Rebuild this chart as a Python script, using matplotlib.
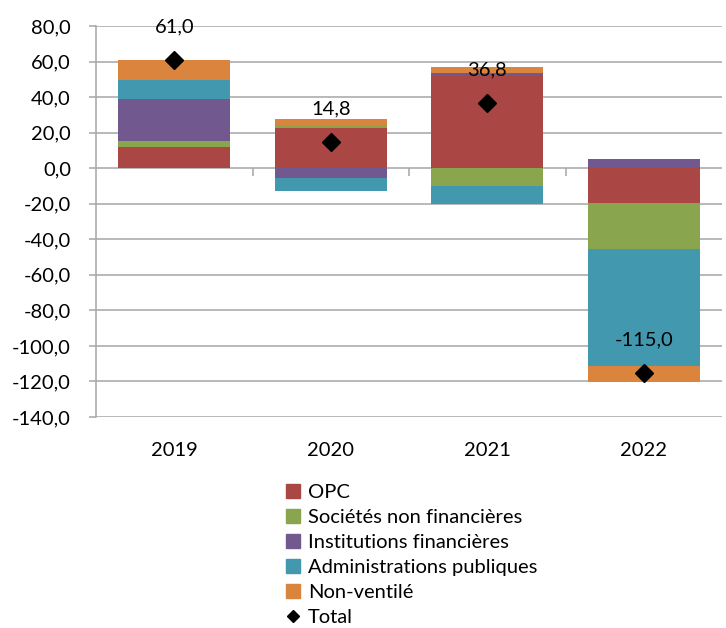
import os
os.environ.setdefault("MPLBACKEND", "Agg")
import numpy as np
import matplotlib.pyplot as plt
from matplotlib.lines import Line2D

years = ["2019", "2020", "2021", "2022"]
opc = [12.0, 22.6, 52.4, -19.5]
snf = [3.2, 1.9, -9.8, -25.8]
inst_fin = [23.5, -5.8, 1.3, 5.3]
admin_pub = [10.8, -7.1, -10.5, -66.0]
non_vent = [11.5, 3.2, 3.4, -9.0]
total = [61.0, 14.8, 36.8, -115.0]

series = [
    ("OPC", opc, "#AA4643"),
    ("Sociétés non financières", snf, "#89A54E"),
    ("Institutions financières", inst_fin, "#71588F"),
    ("Administrations publiques", admin_pub, "#4198AF"),
    ("Non-ventilé", non_vent, "#DB843D"),
]

FS = 14.5
plt.rcParams["font.family"] = ["Lato", "DejaVu Sans"]
plt.rcParams["font.size"] = FS


def fmt(v):
    return f"{v:.1f}".replace(".", ",")


fig = plt.figure(figsize=(7.26, 6.28), dpi=100)
ax = fig.add_axes([96 / 726, 1 - 417 / 628, 626 / 726, (417 - 26) / 628])

x = np.arange(len(years))
pos_base = np.zeros(len(years))
neg_base = np.zeros(len(years))
handles = []
for name, vals, col in series:
    vals = np.array(vals)
    base = np.where(vals >= 0, pos_base, neg_base)
    ax.bar(x, vals, width=0.716, bottom=base, color=col, linewidth=0, zorder=2)
    pos_base = pos_base + np.where(vals >= 0, vals, 0)
    neg_base = neg_base + np.where(vals < 0, vals, 0)
    handles.append(Line2D([], [], marker="s", color=col, linestyle="none",
                          markersize=10, label=name))

ax.plot(x, total, linestyle="none", marker="D", color="black", markersize=9.5, zorder=4)
for xi, t in zip(x, total):
    ax.annotate(fmt(t), (xi, t), xytext=(0, 33), textcoords="offset pixels",
                ha="center", va="center", fontsize=FS, zorder=5)
handles.append(Line2D([], [], marker="D", color="black", linestyle="none",
                      markersize=6, label="Total"))

ax.set_xlim(-0.5, 3.5)
ax.set_ylim(-140, 80)
ax.set_yticks(np.arange(-140, 81, 20))
ax.set_yticklabels([fmt(v) for v in np.arange(-140, 81, 20)])
ax.yaxis.grid(True, color="#A6A6A6", linewidth=1.1, zorder=0)
ax.set_axisbelow(True)
ax.set_xticks(x)
ax.set_xticklabels(years)
ax.tick_params(axis="x", length=0, pad=18)
ax.tick_params(axis="y", length=5, color="#A6A6A6", width=1.1, pad=13)
for s in ["top", "right", "bottom"]:
    ax.spines[s].set_visible(False)
ax.spines["left"].set_color("#A6A6A6")
ax.spines["left"].set_linewidth(1.1)
# category boundary ticks on the zero line
ax.vlines([0.5, 1.5, 2.5], 0, -4.5, color="#A6A6A6", linewidth=1.1, zorder=1)

fig.legend(handles=handles, loc="upper left", bbox_to_anchor=(286 / 726, 1 - 484 / 628),
           frameon=False, handlelength=0.7, handletextpad=0.4, labelspacing=0.39,
           borderpad=0, borderaxespad=0, fontsize=FS)

fig.savefig("out.png", dpi=100)
